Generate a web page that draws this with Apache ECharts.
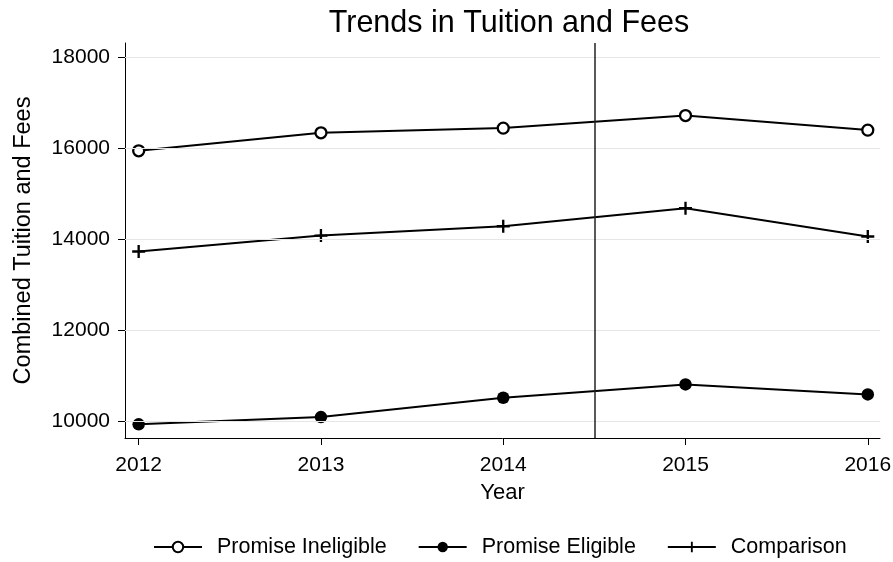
<!DOCTYPE html>
<html><head><meta charset="utf-8">
<script src="https://cdn.jsdelivr.net/npm/echarts@6/dist/echarts.min.js"></script>
<style>html,body{margin:0;padding:0;background:#fff}#c{width:893px;height:562px}</style>
</head><body><div id="c"></div>
<script>
const years = [2012, 2013, 2014, 2015, 2016];
const ineligible = [15940, 16335, 16438, 16714, 16394];
const eligible = [9932, 10092, 10515, 10808, 10589];
const comparison = [13728, 14078, 14283, 14677, 14057];
const yTicks = [10000, 12000, 14000, 16000, 18000];
const policyYear = 2014.5;

const FONT = '"Liberation Sans", Arial, sans-serif';
const plus = 'path://M4.1,0H5.9V4.1H10V5.9H5.9V10H4.1V5.9H0V4.1H4.1Z';
const pair = arr => years.map((y, i) => [y, arr[i]]);

const chart = echarts.init(document.getElementById('c'), null, {renderer: 'canvas'});
chart.setOption({
  animation: false,
  backgroundColor: '#fff',
  title: {text: 'Trends in Tuition and Fees', left: 504, textAlign: 'center', top: 3,
    textStyle: {fontFamily: FONT, fontSize: 30.5, fontWeight: 'normal', color: '#000'}},
  grid: {left: 125, right: 13, top: 43, bottom: 124, containLabel: false, outerBoundsMode: 'none'},
  xAxis: {type: 'value', min: 2011.925, max: 2016.067,
    name: 'Year', nameLocation: 'middle', nameGap: 44, nameMoveOverlap: false,
    nameTextStyle: {fontFamily: FONT, fontSize: 22, color: '#000'},
    axisLine: {show: true, lineStyle: {color: '#000', width: 1}},
    axisTick: {show: true, length: 7, customValues: years, lineStyle: {color: '#000'}},
    axisLabel: {customValues: years, fontFamily: FONT, fontSize: 21, color: '#000', margin: 17,
      formatter: v => String(Math.round(v))},
    splitLine: {show: false}},
  yAxis: {type: 'value', min: 9632, max: 18307,
    name: 'Combined Tuition and Fees', nameLocation: 'middle', nameGap: 89, nameMoveOverlap: false,
    nameTextStyle: {fontFamily: FONT, fontSize: 23.5, color: '#000'},
    axisLine: {show: true, lineStyle: {color: '#000', width: 1}},
    axisTick: {show: true, length: 7, customValues: yTicks, lineStyle: {color: '#000'}},
    axisLabel: {customValues: yTicks, fontFamily: FONT, fontSize: 21, color: '#000', margin: 15,
      formatter: v => String(Math.round(v))},
    splitLine: {show: false}},
  legend: {top: 531, left: 148, itemWidth: 48, itemHeight: 13, itemGap: 31,
    textStyle: {fontFamily: FONT, fontSize: 21.5, color: '#000', padding: [0, 0, 0, 10]},
    data: ['Promise Ineligible', 'Promise Eligible', 'Comparison']},
  series: [
    {name: 'grid', type: 'line', data: [], silent: true, z: 1,
      markLine: {silent: true, symbol: 'none', label: {show: false},
        lineStyle: {color: '#e6e6e6', width: 1, type: 'solid'},
        data: yTicks.map(v => ({yAxis: v}))}},
    {name: 'Promise Ineligible', type: 'line', data: pair(ineligible),
      symbol: 'circle', symbolSize: 11, z: 3,
      lineStyle: {color: '#000', width: 2},
      itemStyle: {color: '#fff', borderColor: '#000', borderWidth: 2.3},
      markLine: {silent: true, symbol: 'none', label: {show: false},
        lineStyle: {color: '#222', width: 1.5, type: 'solid'},
        data: [{xAxis: policyYear}]}},
    {name: 'Promise Eligible', type: 'line', data: pair(eligible),
      symbol: 'circle', symbolSize: 12.5, z: 3,
      lineStyle: {color: '#000', width: 2},
      itemStyle: {color: '#000', borderColor: '#000', borderWidth: 0}},
    {name: 'Comparison', type: 'line', data: pair(comparison),
      symbol: plus, symbolSize: 13, symbolKeepAspect: true, z: 3,
      lineStyle: {color: '#000', width: 2},
      itemStyle: {color: '#000', borderWidth: 0}}
  ]
});
</script></body></html>
